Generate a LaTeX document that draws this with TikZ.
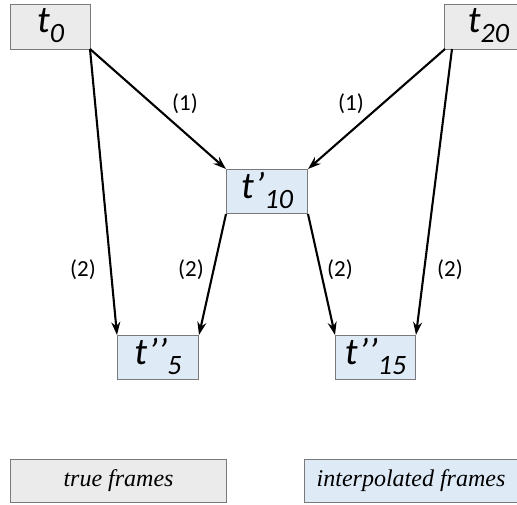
\documentclass[tikz,border=0pt]{standalone}
\usepackage{fontspec}
\setmainfont{Liberation Serif}
\newfontfamily\calib{Carlito}
\usetikzlibrary{arrows.meta}
\definecolor{grayfill}{HTML}{EBEBEB}
\definecolor{bluefill}{HTML}{DEEBF7}
\definecolor{boxline}{HTML}{7A7A7A}
\newcommand{\tl}[2]{{\calib\itshape\fontsize{38}{40}\selectfont #1\raisebox{-0.26em}{\fontsize{28}{30}\selectfont #2}}}
\tikzset{
  frame/.style={draw=boxline, line width=1pt, inner sep=0pt, anchor=north west},
  truebox/.style={frame, fill=grayfill},
  interbox/.style={frame, fill=bluefill},
  arr/.style={line width=2.1pt, -{Stealth[length=13pt,width=9pt]}},
  lab/.style={font=\calib\fontsize{23}{25}\selectfont, text=black},
  leg/.style={font=\itshape\fontsize{24}{26}\selectfont}
}
\begin{document}
\begin{tikzpicture}[x=1pt,y=-1pt]
\useasboundingbox (0,0) rectangle (517,504);
\node[truebox, minimum width=80pt, minimum height=45pt] (t0) at (10,4) {};
\node at ([yshift=1pt]t0.center) {\tl{t}{0}};
\node[truebox, minimum width=80pt, minimum height=45pt] (t20) at (444,4) {};
\node at ([xshift=4pt,yshift=1pt]t20.center) {\tl{t}{20}};
\node[interbox, minimum width=81pt, minimum height=44pt] (t10) at (226,169) {};
\node at ([yshift=1pt]t10.center) {\tl{t’}{10}};
\node[interbox, minimum width=81pt, minimum height=44pt] (t5) at (117,335) {};
\node at ([yshift=1pt]t5.center) {\tl{t’’}{5}};
\node[interbox, minimum width=80pt, minimum height=44pt] (t15) at (335,335) {};
\node at ([yshift=1pt]t15.center) {\tl{t’’}{15}};
\node[truebox, minimum width=216pt, minimum height=43pt, leg] (legT) at (10,459) {true frames};
\node[interbox, minimum width=213pt, minimum height=43pt, leg] (legI) at (304,459) {interpolated frames};
\coordinate (t0a) at ([xshift=-1pt,yshift=1pt]t0.south east);
\coordinate (t20a) at ([xshift=1pt,yshift=1pt]t20.south west);
\coordinate (t20b) at ([xshift=8pt,yshift=1pt]t20.south west);
\draw[arr] (t0a) -- (t10.north west);
\draw[arr] (t20a) -- (t10.north east);
\draw[arr] (t0a) -- (t5.north west);
\draw[arr] (t20b) -- (t15.north east);
\draw[arr] (t10.south west) -- (t5.north east);
\draw[arr] (t10.south east) -- (t15.north west);
\node[lab] (l1a) at (185,104) {(1)};
\node[lab] (l1b) at (351,104) {(1)};
\node[lab] (l2a) at (83,270) {(2)};
\node[lab] (l2b) at (191,270) {(2)};
\node[lab] (l2c) at (340,270) {(2)};
\node[lab] (l2d) at (450,270) {(2)};
\end{tikzpicture}
\end{document}
